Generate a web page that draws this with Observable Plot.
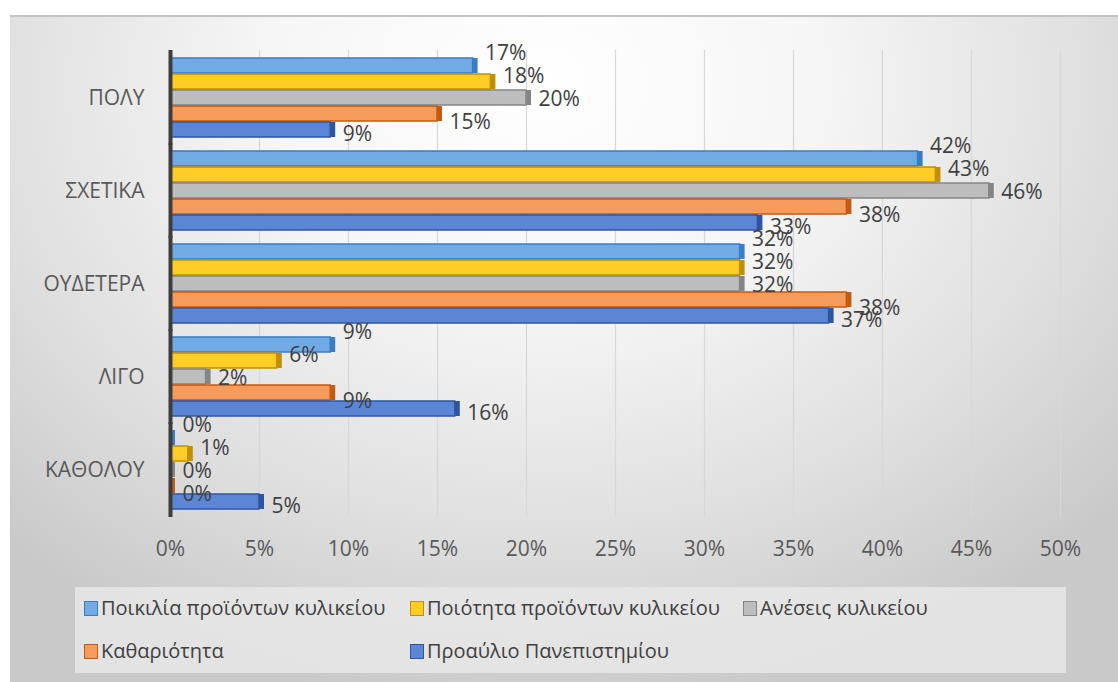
<!DOCTYPE html>
<html>
<head>
<meta charset="utf-8">
<script src="https://cdn.jsdelivr.net/npm/d3@7"></script>
<script src="https://cdn.jsdelivr.net/npm/@observablehq/plot@0.6"></script>
<style>
  html, body { margin: 0; padding: 0; background: #fff; overflow: hidden; }
  #page { position: relative; width: 1118px; height: 682px; background: #fff; font-family: 'Open Sans', sans-serif; }
  #panel { position: absolute; left: 10px; top: 15px; right: 0; bottom: 0;
    border-top: 2px solid #c4c4c4;
    background: radial-gradient(ellipse 70% 95% at 48% 10%, #ffffff 0%, #f6f6f6 35%, #e0e0e0 70%, #c9c9c9 100%); }
  #chart { position: absolute; left: 0; top: 0; }
  #legend { position: absolute; left: 75px; top: 587px; width: 991px; height: 86px; background: rgba(232,232,232,0.85); }
  .item { position: absolute; display: flex; align-items: center; font-size: 20px; color: #404040; white-space: nowrap; line-height: 1; }
  .sw { width: 12px; height: 13px; border: 1.5px solid; margin-right: 3px; }
</style>
</head>
<body>
<div id="page">
  <div id="panel"></div>
  <div id="chart"></div>
  <div id="legend"></div>
</div>
<script>
const categories = ["ΠΟΛΥ", "ΣΧΕΤΙΚΑ", "ΟΥΔΕΤΕΡΑ", "ΛΙΓΟ", "ΚΑΘΟΛΟΥ"];
const series = ["Ποικιλία προϊόντων κυλικείου", "Ποιότητα προϊόντων κυλικείου", "Ανέσεις κυλικείου", "Καθαριότητα", "Προαύλιο Πανεπιστημίου"];
const poikilia = [17, 42, 32, 9, 0];
const poiotita = [18, 43, 32, 6, 1];
const aneseis = [20, 46, 32, 2, 0];
const kathariotita = [15, 38, 38, 9, 0];
const proaulio = [9, 33, 37, 16, 5];
const xTicks = [0, 5, 10, 15, 20, 25, 30, 35, 40, 45, 50];

const values = [poikilia, poiotita, aneseis, kathariotita, proaulio];
const fills = ["#71aae4", "#ffcd25", "#bdbdbd", "#f59b5b", "#5b86d5"];
const strokes = ["#3a7cc6", "#c09000", "#858585", "#c55a11", "#2f55a0"];
const labelDy = [-13, -6, 1, 8, 4];

const rows = categories.flatMap((c, ci) => series.map((s, si) => ({cat: c, series: s, si, value: values[si][ci]})));

const chart = Plot.plot({
  width: 1118,
  height: 580,
  marginLeft: 170,
  marginRight: 58,
  marginTop: 55,
  marginBottom: 67,
  style: {background: "transparent", fontFamily: "'Open Sans', sans-serif", fontSize: "21px", color: "#595959"},
  color: {type: "identity"},
  x: {domain: [0, 50], ticks: xTicks, tickFormat: d => d + "%", tickSize: 0, tickPadding: 29, label: null},
  y: {domain: series, axis: null, padding: 0.06},
  fy: {domain: categories, padding: 0.086, label: null, axis: "left", tickSize: 0, tickPadding: 26},
  marks: [
    Plot.ruleX(xTicks.slice(1), {stroke: "#d8d8d8", strokeWidth: 1.2, insetTop: -5, insetBottom: -5}),
    Plot.barX(rows, {fy: "cat", y: "series", x: "value", fill: d => fills[d.si], stroke: d => strokes[d.si], strokeWidth: 1.5}),
    Plot.barX(rows, {fy: "cat", y: "series", x1: "value", x2: "value", insetRight: -5, fill: d => strokes[d.si]}),
    Plot.ruleX([0], {stroke: "#3d3d3d", strokeWidth: 4, insetTop: -5, insetBottom: -5}),
    ...series.map((s, si) => Plot.text(rows.filter(d => d.si === si), {
      fy: "cat", y: "series", x: "value", text: d => d.value + "%",
      dx: 12, dy: labelDy[si], textAnchor: "start", fill: "#404040", fontSize: 21
    }))
  ]
});
document.getElementById("chart").appendChild(chart);

const legendPos = [[9, 22], [335, 22], [668, 22], [9, 65], [335, 65]];
const legend = document.getElementById("legend");
series.forEach((s, i) => {
  const item = document.createElement("div");
  item.className = "item";
  item.style.left = legendPos[i][0] + "px";
  item.style.top = (legendPos[i][1] - 11) + "px";
  const sw = document.createElement("span");
  sw.className = "sw";
  sw.style.background = fills[i];
  sw.style.borderColor = strokes[i];
  const t = document.createElement("span");
  t.textContent = s;
  item.appendChild(sw);
  item.appendChild(t);
  legend.appendChild(item);
});
</script>
</body>
</html>
